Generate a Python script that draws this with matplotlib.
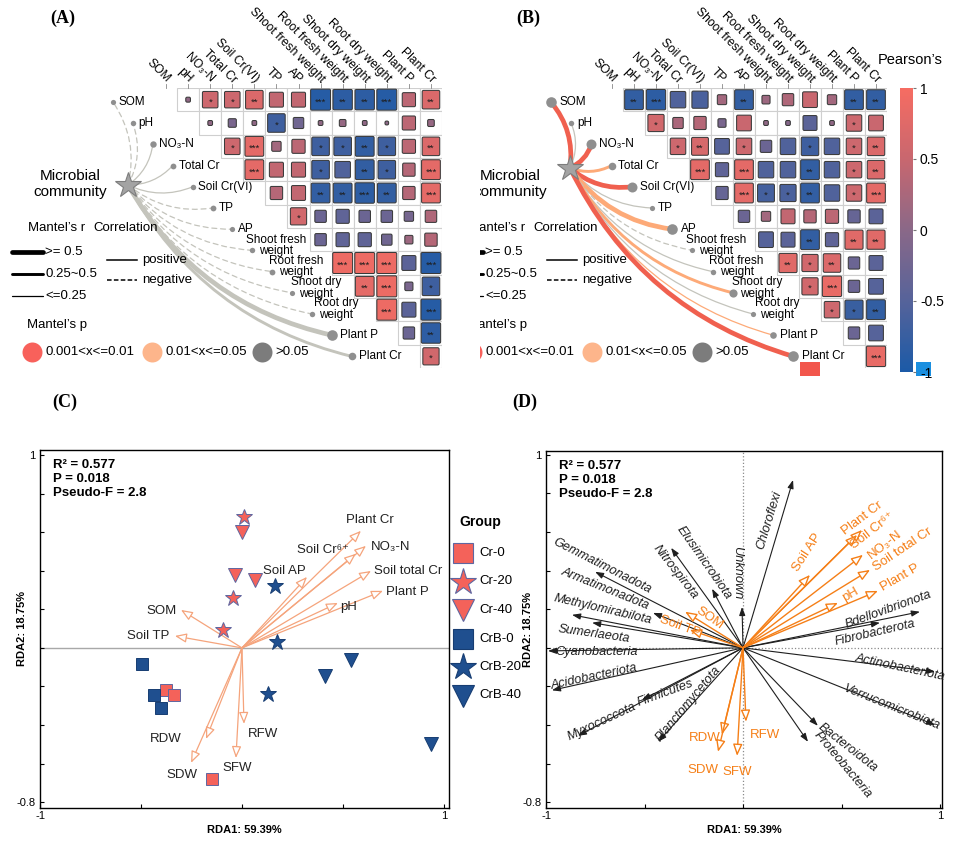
import numpy as np
import matplotlib
matplotlib.use("Agg")
import matplotlib.pyplot as plt
from matplotlib.colors import LinearSegmentedColormap, Normalize
from matplotlib.cm import ScalarMappable
from matplotlib.patches import Rectangle, FancyBboxPatch, PathPatch
from matplotlib.path import Path

plt.rcParams['font.family'] = ['Liberation Sans', 'DejaVu Sans']

W, H = 955, 843

# ---------------- data: panels A / B ----------------
env_vars = ['SOM', 'pH', 'NO₃-N', 'Total Cr', 'Soil Cr(VI)', 'TP', 'AP',
            'Shoot fresh weight', 'Root fresh weight', 'Shoot dry weight',
            'Root dry weight', 'Plant P', 'Plant Cr']
env_dot_labels = ['SOM', 'pH', 'NO₃-N', 'Total Cr', 'Soil Cr(VI)', 'TP', 'AP',
                  'Shoot fresh\nweight', 'Root fresh\nweight', 'Shoot dry\nweight',
                  'Root dry\nweight', 'Plant P', 'Plant Cr']

# upper triangle, row i against columns i+1 ...
corr_A = [
    [0.05, 0.55, 0.55, 0.70, 0.45, 0.45, -0.90, -0.85, -0.85, -0.90, 0.40, 0.70],
    [0.05, -0.15, 0.05, -0.70, -0.25, 0.05, 0.10, 0.05, 0.03, 0.40, 0.10],
    [0.55, 0.80, 0.20, 0.40, -0.70, -0.70, -0.80, -0.70, 0.40, 0.70],
    [0.80, 0.45, 0.45, -0.70, -0.55, -0.80, -0.70, 0.35, 0.80],
    [0.35, 0.45, -0.80, -0.80, -0.85, -0.80, 0.35, 0.80],
    [0.60, -0.30, -0.40, -0.30, -0.30, -0.20, 0.30],
    [-0.30, -0.40, -0.40, -0.25, 0.15, 0.35],
    [0.90, 0.90, 0.90, -0.45, -0.90],
    [0.80, 0.90, -0.15, -0.70],
    [0.90, -0.45, -0.90],
    [-0.30, -0.85],
    [0.60],
]
sig_A = [
    ['', '*', '*', '**', '', '', '***', '**', '**', '***', '', '**'],
    ['', '', '', '*', '', '', '', '', '', '', ''],
    ['*', '***', '', '', '*', '*', '**', '*', '', '**'],
    ['***', '', '', '*', '', '**', '*', '', '***'],
    ['', '', '**', '**', '***', '**', '', '***'],
    ['*', '', '', '', '', '', ''],
    ['', '', '', '', '', ''],
    ['***', '***', '***', '', '***'],
    ['**', '***', '', '*'],
    ['***', '', '***'],
    ['', '**'],
    ['*'],
]
corr_B = [
    [-0.80, -0.85, -0.55, -0.60, 0.20, -0.80, 0.15, 0.30, 0.50, 0.20, -0.80, -0.80],
    [0.60, 0.25, 0.35, -0.15, 0.50, 0.05, -0.05, -0.45, 0.05, 0.55, 0.50],
    [0.55, 0.65, -0.50, 0.55, -0.30, -0.55, -0.70, -0.55, 0.55, 0.70],
    [0.80, -0.40, 0.80, -0.55, -0.55, -0.80, -0.55, 0.55, 0.70],
    [-0.35, 0.80, -0.65, -0.60, -0.80, -0.55, 0.55, 0.80],
    [-0.30, 0.20, 0.45, 0.35, 0.40, -0.35, -0.45],
    [-0.50, -0.45, -0.80, -0.40, 0.75, 0.75],
    [0.75, 0.60, 0.70, -0.30, -0.45],
    [0.60, 0.85, -0.30, -0.50],
    [0.55, -0.75, -0.80],
    [-0.30, -0.50],
    [0.85],
]
sig_B = [
    ['**', '***', '', '', '', '**', '', '', '', '', '**', '**'],
    ['*', '', '', '', '', '', '', '', '', '*', ''],
    ['*', '**', '', '*', '', '', '*', '', '*', '**'],
    ['***', '', '***', '', '', '**', '', '*', '**'],
    ['', '***', '*', '*', '**', '', '*', '***'],
    ['', '', '', '', '', '', ''],
    ['', '', '**', '', '**', '**'],
    ['**', '*', '**', '', ''],
    ['*', '***', '', ''],
    ['*', '*', '**'],
    ['', ''],
    ['***'],
]
mantel_r_A = [-0.10, -0.12, 0.20, 0.15, 0.12, -0.15, -0.10, -0.12, -0.15, -0.10, -0.12, 0.55, 0.30]
mantel_p_A = [0.45, 0.30, 0.12, 0.20, 0.25, 0.35, 0.40, 0.30, 0.25, 0.35, 0.30, 0.08, 0.15]
mantel_r_B = [0.55, 0.12, 0.50, 0.30, 0.50, 0.10, 0.55, -0.10, 0.12, 0.35, 0.10, 0.22, 0.55]
mantel_p_B = [0.005, 0.20, 0.008, 0.03, 0.006, 0.30, 0.02, 0.40, 0.30, 0.03, 0.30, 0.04, 0.004]

# ---------------- data: panels C / D ----------------
groups = ['Cr-0', 'Cr-20', 'Cr-40', 'CrB-0', 'CrB-20', 'CrB-40']
site_x = [[-0.376, -0.337, -0.150], [0.010, -0.045, -0.094], [0.000, -0.035, 0.064],
          [-0.495, -0.436, -0.400], [0.165, 0.173, 0.129], [0.540, 0.410, 0.935]]
site_y = [[-0.220, -0.245, -0.680], [0.680, 0.260, 0.093], [0.600, 0.380, 0.350],
          [-0.083, -0.244, -0.310], [0.320, 0.030, -0.240], [-0.062, -0.145, -0.500]]

env_rda = ['Plant Cr', 'NO₃-N', 'Soil Cr⁶⁺', 'Soil total Cr', 'Plant P', 'pH', 'Soil AP',
           'SOM', 'Soil TP', 'RDW', 'SDW', 'SFW', 'RFW']
c_env_x = [0.589, 0.614, 0.564, 0.639, 0.698, 0.475, 0.322, -0.302, -0.332, -0.178, -0.252, -0.030, 0.010]
c_env_y = [0.607, 0.529, 0.488, 0.399, 0.296, 0.233, 0.368, 0.197, 0.062, -0.472, -0.596, -0.571, -0.394]
d_env_x = [0.604, 0.609, 0.579, 0.645, 0.685, 0.482, 0.340, -0.294, -0.270, -0.107, -0.127, -0.030, 0.015]
d_env_y = [0.611, 0.482, 0.585, 0.404, 0.295, 0.233, 0.378, 0.187, 0.093, -0.450, -0.539, -0.560, -0.383]

taxa = ['Chloroflexi', 'Unknown', 'Elusimicrobiota', 'Nitrospirota', 'Gemmatimonadota',
        'Armatimonadota', 'Methylomirabilota', 'Sumerlaeota', 'Cyanobacteria', 'Acidobacteriota',
        'Myxococcota', 'Firmicutes', 'Planctomycetota', 'Bdellovibrionota', 'Fibrobacterota',
        'Actinobacteriota', 'Verrucomicrobiota', 'Bacteroidota', 'Proteobacteria']
taxa_x = [0.254, -0.005, -0.157, -0.365, -0.751, -0.457, -0.868, -0.766, -0.990, -0.970,
          -0.838, -0.513, -0.431, 0.898, 0.695, 0.975, 0.975, 0.380, 0.330]
taxa_y = [0.870, 0.212, 0.306, 0.518, 0.394, 0.181, 0.171, 0.130, -0.016, -0.220,
          -0.456, -0.270, -0.487, 0.187, 0.130, -0.124, -0.400, -0.404, -0.487]

stats_text = 'R² = 0.577\nP = 0.018\nPseudo-F = 2.8'

# ---------------- layout (label placement) ----------------
c_lab = [(0.634, 0.664, 'center'), (0.639, 0.524, 'left'), (0.401, 0.508, 'center'),
         (0.653, 0.399, 'left'), (0.713, 0.290, 'left'), (0.485, 0.213, 'left'),
         (0.208, 0.400, 'center'), (-0.400, 0.192, 'center'), (-0.465, 0.062, 'center'),
         (-0.376, -0.472, 'center'), (-0.297, -0.659, 'center'), (-0.025, -0.622, 'center'),
         (0.104, -0.446, 'center')]
d_lab = [(0.604, 0.674, 37), (0.721, 0.534, 38), (0.660, 0.606, 38), (0.812, 0.508, 34),
         (0.797, 0.363, 30), (0.543, 0.275, 30), (0.325, 0.492, 57), (-0.168, 0.155, -35),
         (-0.320, 0.109, -20), (-0.193, -0.466, 0), (-0.203, -0.632, 0), (-0.030, -0.642, 0),
         (0.112, -0.450, 0)]
taxa_lab = [(0.132, 0.663, 73), (-0.030, 0.390, -90), (-0.200, 0.443, -55), (-0.345, 0.394, -52),
            (-0.716, 0.425, -27), (-0.700, 0.306, -22), (-0.711, 0.197, -13), (-0.756, 0.073, -8),
            (-0.741, -0.020, 0), (-0.756, -0.150, 12), (-0.715, -0.385, 25), (-0.395, -0.235, 20),
            (-0.279, -0.290, 50), (0.736, 0.197, 20), (0.670, 0.078, 13), (0.797, -0.104, -12),
            (0.756, -0.311, -22), (0.533, -0.518, -38), (0.508, -0.606, -50)]

cmap = LinearSegmentedColormap.from_list(
    'pearson', ['#1b5aa7', '#56639a', '#8a6888', '#c8676f', '#f66c62'])
norm = Normalize(-1, 1)
RED, ORANGE, GRAY = '#f0604f', '#fdaa78', '#c4c4bc'
grp_color = ['#f4625a'] * 3 + ['#1f4f8f'] * 3
grp_edge = ['#5f66a0'] * 3 + ['#173d72'] * 3
grp_marker = ['s', '*', 'v'] * 2
grp_ms = [8.5, 12, 10] * 2
C_ARROW = '#f5a47c'
D_ORANGE = '#f57f17'

fig = plt.figure(figsize=(W / 100, H / 100), dpi=100)


def px_axes(x0, y0, x1, y1, **kw):
    return fig.add_axes([x0 / W, 1 - y1 / H, (x1 - x0) / W, (y1 - y0) / H], **kw)


def overlay(x0, x1, y0=0, y1=385):
    ax = px_axes(x0, y0, x1, y1)
    ax.set_xlim(x0, x1)
    ax.set_ylim(y1, y0)
    ax.axis('off')
    ax.patch.set_alpha(0)
    return ax


def link_color(p):
    return RED if p <= 0.01 else (ORANGE if p <= 0.05 else GRAY)


def link_width(r):
    r = abs(r)
    return 3.4 if r >= 0.5 else (2.1 if r >= 0.25 else 0.9)


def draw_heatmap(ax, corr, sig):
    ax.set_xlim(-1, 12)
    ax.set_ylim(12, 0)
    ax.axis('off')
    ax.patch.set_alpha(0)
    for i, row in enumerate(corr):
        for k, r in enumerate(row):
            j = i + 1 + k
            ax.add_patch(Rectangle((j - 1, i), 1, 1, fc='white', ec='#cfcfcf', lw=0.8))
            s = 0.95 * np.sqrt(abs(r))
            ax.add_patch(FancyBboxPatch((j - 0.5 - s / 2, i + 0.5 - s / 2), s, s,
                                        boxstyle='round,pad=0,rounding_size=0.06',
                                        fc=cmap(norm(r)), ec='#3a3a3a', lw=0.75))
            if sig[i][k]:
                ax.text(j - 0.5, i + 0.6, sig[i][k], ha='center', va='center',
                        fontsize=6.8, color='#1e1e1e')
    for j, lab in enumerate(env_vars):
        ax.plot([j - 0.5, j - 0.5], [0, -0.15], color='#888888', lw=0.6, clip_on=False)
        ax.text(j - 0.4, -0.3, lab, rotation=-45, rotation_mode='anchor',
                ha='right', va='center', fontsize=8.7, clip_on=False)


def draw_mantel(ax, star, x0, y0, sx, sy, mr, mp):
    star = np.array(star, float)
    for k, lab in enumerate(env_dot_labels):
        p1 = np.array([x0 + k * sx, y0 + k * sy])
        d = p1 - star
        ctrl = (star + p1) / 2 + 0.22 * np.array([-d[1], d[0]])
        path = Path([star, ctrl, p1], [Path.MOVETO, Path.CURVE3, Path.CURVE3])
        ax.add_patch(PathPatch(path, fc='none', ec=link_color(mp[k]), lw=link_width(mr[k]),
                               ls='-' if mr[k] > 0 else (0, (4, 3)), capstyle='round', zorder=2))
        size = 4 + 12 * abs(mr[k])
        ax.scatter(p1[0], p1[1], s=(size / 1.39) ** 2, c='#8f8f8f', lw=0, zorder=4)
        if '\n' in lab:
            ax.text(p1[0] + 24, p1[1] - 5, lab, ha='center', va='center', fontsize=8.5,
                    linespacing=0.95, zorder=5)
        else:
            ax.text(p1[0] + size / 2 + 3, p1[1], lab, ha='left', va='center', fontsize=8.5, zorder=5)
    ax.plot(star[0], star[1], marker='*', ms=19, mfc='#a3a3a3', mec='#7d7d7d', mew=0.8, zorder=6)


def draw_mantel_legend(ax, dx):
    ax.text(70 + dx, 184, 'Microbial\ncommunity', ha='center', va='center', fontsize=11,
            linespacing=1.1, clip_on=True)
    ax.text(57 + dx, 228, 'Mantel’s r', ha='center', va='center', fontsize=9.5, clip_on=True)
    ax.text(126 + dx, 228, 'Correlation', ha='center', va='center', fontsize=9.5, clip_on=True)
    for y, r, lab in zip([252, 274, 296], [0.6, 0.35, 0.1], ['>= 0.5', '0.25~0.5', '<=0.25']):
        ax.plot([12 + dx, 43 + dx], [y, y], color='black', lw=link_width(r), solid_capstyle='round')
        ax.text(45 + dx, y, lab, va='center', fontsize=9.5, clip_on=True)
    for y, ls, lab in zip([260, 280], ['-', (0, (3, 1.5))], ['positive', 'negative']):
        ax.plot([107 + dx, 137 + dx], [y, y], color='black', lw=1.1, ls=ls)
        ax.text(142 + dx, y, lab, va='center', fontsize=9.5, clip_on=True)
    ax.text(57 + dx, 325, 'Mantel’s p', ha='center', va='center', fontsize=9.5, clip_on=True)
    for x, c, lab in zip([32, 152, 262], ['#f8615b', '#fdb58b', '#7c7c7c'],
                         ['0.001<x<=0.01', '0.01<x<=0.05', '>0.05']):
        ax.scatter(x + dx, 352, s=(20 / 1.39) ** 2, c=c, lw=0)
        ax.text(x + dx + 13, 352, lab, va='center', fontsize=9.5, clip_on=True)


# ---------------- panel A ----------------
ovA = overlay(0, 478)
draw_mantel_legend(ovA, 0)
draw_mantel(ovA, (128, 185), 113, 102, 19.9, 21.2, mantel_r_A, mantel_p_A)
hA = px_axes(155, 88, 442, 368)
draw_heatmap(hA, corr_A, sig_A)

# ---------------- panel B ----------------
ovB = overlay(480, 955)
draw_mantel_legend(ovB, 440)
draw_mantel(ovB, (570, 168), 551, 102, 20.2, 21.2, mantel_r_B, mantel_p_B)
hB = px_axes(601, 88, 887, 368)
draw_heatmap(hB, corr_B, sig_B)
ovB.add_patch(Rectangle((800, 362), 20, 14, fc='#f2564c', ec='none'))
ovB.add_patch(Rectangle((916, 362), 15, 14, fc='#1a8fe0', ec='none'))
ovB.text(878, 60, 'Pearson’s', va='center', fontsize=10.5)
cax = px_axes(900, 88, 913, 372)
cb = fig.colorbar(ScalarMappable(norm=norm, cmap=cmap), cax=cax, ticks=[1, 0.5, 0, -0.5, -1])
cb.outline.set_visible(False)
cb.ax.set_yticklabels(['1', '0.5', '0', '-0.5', '-1'])
cax.tick_params(length=2, color='#777777', labelsize=10, pad=3)

# ---------------- panels C / D ----------------
ovF = overlay(0, W, 0, H)
for lab, x, y in [('(A)', 63, 18), ('(B)', 528, 18), ('(C)', 65, 402), ('(D)', 525, 402)]:
    ovF.text(x, y, lab, ha='center', va='center', fontsize=13, fontweight='bold',
             family='Liberation Serif')


def style_rda(ax, xmax, ytop):
    ax.set_xlim(-1, xmax)
    ax.set_ylim(-0.83, ytop)
    ax.set_xticks([-1, -0.5, 0, 0.5, 1])
    ax.set_xticklabels(['-1', '', '', '', '1'])
    ax.set_yticks(np.arange(-0.8, 1.01, 0.2))
    ax.set_yticklabels(['-0.8'] + [''] * 8 + ['1'])
    ax.tick_params(direction='in', length=3, labelsize=8, pad=3)
    ax.tick_params(axis='x', pad=2)
    for s in ax.spines.values():
        s.set_linewidth(1.0)
    ax.set_xlabel('RDA1: 59.39%', fontweight='bold', fontsize=8)
    ax.set_ylabel('RDA2: 18.75%', fontweight='bold', fontsize=8)
    ax.xaxis.set_label_coords(0.5, -0.047)
    ax.text(0.032, 0.975, stats_text, transform=ax.transAxes, va='top', ha='left',
            fontweight='bold', fontsize=9.5, linespacing=1.25)


axC = px_axes(40, 450, 449, 808)
style_rda(axC, 1.025, 1.026)
axC.yaxis.set_label_coords(-0.032, 0.5)
axC.axhline(0, color='#a8a8a8', lw=1, zorder=1)
for lab, x, y, (lx, ly, ha) in zip(env_rda, c_env_x, c_env_y, c_lab):
    axC.annotate('', xy=(x, y), xytext=(0, 0),
                 arrowprops=dict(arrowstyle='-|>,head_length=0.7,head_width=0.28', fc='white',
                                 ec=C_ARROW, lw=0.9, shrinkA=0, shrinkB=0), zorder=2)
    axC.text(lx, ly, lab, ha=ha, va='center', fontsize=9.5, color='#222222', zorder=3)
for g in range(len(groups)):
    axC.plot(site_x[g], site_y[g], ls='none', marker=grp_marker[g], ms=grp_ms[g],
             mfc=grp_color[g], mec=grp_edge[g], mew=0.7, zorder=4)

# group legend
ovF.text(459, 522, 'Group', va='center', fontsize=10, fontweight='bold')
for g, name in enumerate(groups):
    y = 553 + 28.5 * g
    ovF.plot(463, y, marker=grp_marker[g], ms=[14.5, 20, 16][g % 3], mfc=grp_color[g],
             mec=grp_edge[g], mew=0.8, ls='none')
    ovF.text(479, y, name, va='center', fontsize=9.5)

axD = px_axes(546, 451, 942, 808)
style_rda(axD, 1.01, 1.02)
axD.yaxis.set_label_coords(-0.034, 0.5)
axD.axhline(0, color='#8a8a8a', lw=0.9, ls=':', zorder=1)
axD.axvline(0, color='#8a8a8a', lw=0.9, ls=':', zorder=1)
for lab, x, y, (lx, ly, rot) in zip(taxa, taxa_x, taxa_y, taxa_lab):
    axD.annotate('', xy=(x, y), xytext=(0, 0),
                 arrowprops=dict(arrowstyle='-|>,head_length=0.5,head_width=0.18', fc='#1e1e1e',
                                 ec='#1e1e1e', lw=0.8, shrinkA=0, shrinkB=0), zorder=2)
    axD.text(lx, ly, lab, ha='center', va='center', rotation=rot, rotation_mode='anchor',
             fontsize=9.2, style='italic', color='#1e1e1e', zorder=3)
for lab, x, y, (lx, ly, rot) in zip(env_rda, d_env_x, d_env_y, d_lab):
    axD.annotate('', xy=(x, y), xytext=(0, 0),
                 arrowprops=dict(arrowstyle='-|>,head_length=0.7,head_width=0.28', fc='white',
                                 ec=D_ORANGE, lw=1.0, shrinkA=0, shrinkB=0), zorder=4)
    axD.text(lx, ly, lab, ha='center', va='center', rotation=rot, rotation_mode='anchor',
             fontsize=9.5, color=D_ORANGE, zorder=5)

fig.savefig('out.png', dpi=100)
